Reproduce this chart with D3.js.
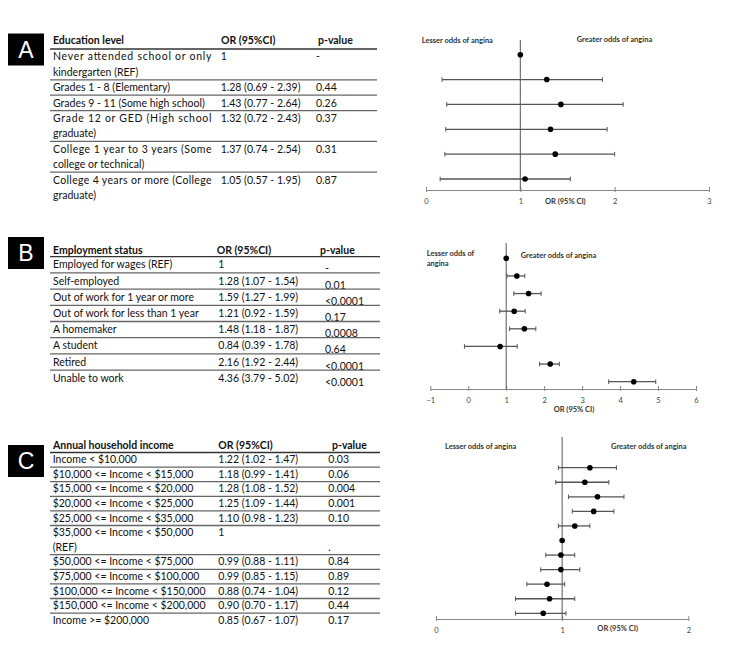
<!DOCTYPE html>
<html>
<head>
<meta charset="utf-8">
<script src="https://cdn.jsdelivr.net/npm/d3@7"></script>
<style>
  body { margin: 0; background: #fff; }
  svg { display: block; }
</style>
</head>
<body>
<svg width="750" height="660"></svg>
<script>
// ---- Panel A : education ----
const eduLabels = [
  ["Never attended school or only", "kindergarten (REF)"],
  ["Grades 1 - 8 (Elementary)"],
  ["Grades 9 - 11 (Some high school)"],
  ["Grade 12 or GED (High school", "graduate)"],
  ["College 1 year to 3 years (Some", "college or technical)"],
  ["College 4 years or more (College", "graduate)"]
];
const eduOR   = [1, 1.28, 1.43, 1.32, 1.37, 1.05];
const eduLow  = [null, 0.69, 0.77, 0.72, 0.74, 0.57];
const eduHigh = [null, 2.39, 2.64, 2.43, 2.54, 1.95];
const eduP    = ["-", "0.44", "0.26", "0.37", "0.31", "0.87"];
// whisker ends as they are drawn in the plot
const eduBarLow  = [null, 0.17, 0.22, 0.21, 0.20, 0.15];
const eduBarHigh = [null, 1.87, 2.09, 1.92, 2.00, 1.53];
const eduTicks = [0, 1, 2, 3];

// ---- Panel B : employment ----
const empLabels = [
  ["Employed for wages (REF)"],
  ["Self-employed"],
  ["Out of work for 1 year or more"],
  ["Out of work for less than 1 year"],
  ["A homemaker"],
  ["A student"],
  ["Retired"],
  ["Unable to work"]
];
const empOR   = [1, 1.28, 1.59, 1.21, 1.48, 0.84, 2.16, 4.36];
const empLow  = [null, 1.07, 1.27, 0.92, 1.18, 0.39, 1.92, 3.79];
const empHigh = [null, 1.54, 1.99, 1.59, 1.87, 1.78, 2.44, 5.02];
const empP    = ["-", "0.01", "<0.0001", "0.17", "0.0008", "0.64", "<0.0001", "<0.0001"];
const empBarLow  = [null, 1.02, 1.20, 0.83, 1.09, -0.10, 1.88, 3.70];
const empBarHigh = [null, 1.49, 1.92, 1.50, 1.78, 1.29, 2.40, 4.94];
const empTicks = [-1, 0, 1, 2, 3, 4, 5, 6];

// ---- Panel C : household income ----
const incLabels = [
  ["Income < $10,000"],
  ["$10,000 <= Income < $15,000"],
  ["$15,000 <= Income < $20,000"],
  ["$20,000 <= Income < $25,000"],
  ["$25,000 <= Income < $35,000"],
  ["$35,000 <= Income < $50,000", "(REF)"],
  ["$50,000 <= Income < $75,000"],
  ["$75,000 <= Income < $100,000"],
  ["$100,000 <= Income < $150,000"],
  ["$150,000 <= Income < $200,000"],
  ["Income >= $200,000"]
];
const incOR   = [1.22, 1.18, 1.28, 1.25, 1.10, 1, 0.99, 0.99, 0.88, 0.90, 0.85];
const incLow  = [1.02, 0.99, 1.08, 1.09, 0.98, null, 0.88, 0.85, 0.74, 0.70, 0.67];
const incHigh = [1.47, 1.41, 1.52, 1.44, 1.23, null, 1.11, 1.15, 1.04, 1.17, 1.07];
const incP    = ["0.03", "0.06", "0.004", "0.001", "0.10", ".", "0.84", "0.89", "0.12", "0.44", "0.17"];
const incBarLow  = [0.97, 0.95, 1.05, 1.08, 0.97, null, 0.87, 0.83, 0.72, 0.63, 0.63];
const incBarHigh = [1.43, 1.37, 1.49, 1.41, 1.22, null, 1.10, 1.14, 1.02, 1.10, 1.03];
const incTicks = [0, 1, 2];

const FONT = 'Lato, "DejaVu Sans", sans-serif';
const svg = d3.select('svg').attr('font-family', FONT);

function ciText(or, lo, hi) {
  if (lo == null) return '1';
  return `${or.toFixed(2)} (${lo.toFixed(2)} - ${hi.toFixed(2)})`;
}

function drawLetter(letter, cy) {
  svg.append('rect')
    .attr('x', 8).attr('y', cy - 16)
    .attr('width', 36).attr('height', 32)
    .attr('fill', '#000');
  svg.append('text')
    .attr('x', 26).attr('y', cy)
    .attr('dy', '0.36em')
    .attr('text-anchor', 'middle')
    .attr('font-family', '"Liberation Sans", Arial, sans-serif')
    .attr('font-size', 23)
    .attr('fill', '#fff')
    .text(letter);
}

function drawTable(t) {
  const g = svg.append('g').attr('font-size', 10.5).attr('fill', '#111');
  // header
  t.heads.forEach((h, i) => {
    g.append('text')
      .attr('x', t.headX[i]).attr('y', t.lineY - t.headOff)
      .attr('dy', '0.36em')
      .attr('font-weight', 'bold')
      .text(h);
  });
  g.append('line')
    .attr('x1', t.x0).attr('x2', t.x1)
    .attr('y1', t.lineY).attr('y2', t.lineY)
    .attr('stroke', '#333').attr('stroke-width', 1.3);

  let top = t.lineY;
  t.labels.forEach((lines, i) => {
    if (i > 0) {
      g.append('line')
        .attr('x1', t.x0).attr('x2', t.x1)
        .attr('y1', top).attr('y2', top)
        .attr('stroke', '#666').attr('stroke-width', 1.3);
    }
    lines.forEach((s, k) => {
      const txt = g.append('text')
        .attr('x', t.colX[0]).attr('y', top + t.textOff + k * t.lh)
        .attr('dy', '0.36em')
        .text(s);
      if (t.justify && lines.length > 1 && k == 0) {
        txt.attr('textLength', t.justifyW).attr('lengthAdjust', 'spacing');
      }
    });
    g.append('text')
      .attr('x', t.colX[1]).attr('y', top + t.textOff)
      .attr('dy', '0.36em')
      .text(ciText(t.or[i], t.low[i], t.high[i]));
    g.append('text')
      .attr('x', t.colX[2])
      .attr('y', top + t.textOff + t.pShift + (t.pLast ? (lines.length - 1) * t.lh : 0))
      .attr('dy', '0.36em')
      .text(t.p[i]);
    top += lines.length * t.lh;
  });
}

function drawForest(f) {
  const g = svg.append('g');
  const x = d3.scaleLinear().domain(f.domain).range(f.xRange);
  const y = d3.scalePoint().domain(d3.range(f.or.length)).range(f.yRange);

  const axis = d3.axisBottom(x)
    .tickValues(f.ticks)
    .tickSizeOuter(0)
    .tickSizeInner(3)
    .tickFormat(d3.format('d'));
  const ax = g.append('g')
    .attr('transform', `translate(0, ${f.axisY})`)
    .call(axis);
  ax.select('.domain').attr('stroke', '#888').attr('stroke-width', 1.2);
  ax.selectAll('.tick line').attr('stroke', '#888').attr('y1', -3).attr('y2', 2);
  ax.selectAll('.tick text')
    .attr('y', 11.7).attr('dy', '0.36em')
    .attr('font-family', FONT).attr('font-size', 7.5).attr('fill', '#444');

  // reference line at OR = 1
  g.append('line')
    .attr('x1', x(1)).attr('x2', x(1))
    .attr('y1', f.refTop).attr('y2', f.axisY)
    .attr('stroke', '#666').attr('stroke-width', 1.1);

  const rows = d3.range(f.or.length).filter(i => f.barLow[i] != null);
  g.selectAll('.bar')
    .data(rows).enter().append('line')
    .attr('x1', i => x(f.barLow[i])).attr('x2', i => x(f.barHigh[i]))
    .attr('y1', i => y(i)).attr('y2', i => y(i))
    .attr('stroke', '#555').attr('stroke-width', 1.3);
  ['barLow', 'barHigh'].forEach(key => {
    g.selectAll('.cap-' + key)
      .data(rows).enter().append('line')
      .attr('x1', i => x(f[key][i])).attr('x2', i => x(f[key][i]))
      .attr('y1', i => y(i) - 2.3).attr('y2', i => y(i) + 2.3)
      .attr('stroke', '#555').attr('stroke-width', 1);
  });
  g.selectAll('circle')
    .data(f.or).enter().append('circle')
    .attr('cx', d => x(d)).attr('cy', (d, i) => y(i))
    .attr('r', 2.8)
    .attr('fill', '#000');

  f.notes.forEach(n => {
    g.append('text')
      .attr('x', n.x).attr('y', n.y)
      .attr('dy', '0.36em')
      .attr('text-anchor', n.anchor || 'start')
      .attr('font-size', 7.5).attr('font-weight', 'bold').attr('fill', '#333')
      .text(n.text);
  });
}

// ---------- A ----------
drawLetter('A', 49.5);
drawTable({
  heads: ['Education level', 'OR (95%CI)', 'p-value'],
  headX: [53, 221, 318], headOff: 9,
  colX: [53, 220.7, 316],
  x0: 50, x1: 377, lineY: 49, lh: 15.4, textOff: 7.7, pShift: 0,
  justify: true, justifyW: 158.5,
  labels: eduLabels, or: eduOR, low: eduLow, high: eduHigh, p: eduP
});
drawForest({
  domain: [0, 3], xRange: [426, 709], yRange: [54.7, 179], axisY: 190, refTop: 40,
  ticks: eduTicks, or: eduOR, barLow: eduBarLow, barHigh: eduBarHigh,
  notes: [
    { text: 'Lesser odds of angina', x: 421.7, y: 40 },
    { text: 'Greater odds of angina', x: 576.7, y: 39.3 },
    { text: 'OR (95% CI)', x: 545, y: 201.7 }
  ]
});

// ---------- B ----------
drawLetter('B', 253);
drawTable({
  heads: ['Employment status', 'OR (95%CI)', 'p-value'],
  headX: [53, 216.7, 320], headOff: 6.7,
  colX: [53, 218.3, 325],
  x0: 50, x1: 380, lineY: 256.7, lh: 16.2, textOff: 8, pShift: 4,
  justify: false,
  labels: empLabels, or: empOR, low: empLow, high: empHigh, p: empP
});
drawForest({
  domain: [-1, 6], xRange: [430.3, 696], yRange: [258.3, 381.7], axisY: 389, refTop: 243,
  ticks: empTicks, or: empOR, barLow: empBarLow, barHigh: empBarHigh,
  notes: [
    { text: 'Lesser odds of', x: 426.7, y: 253.3 },
    { text: 'angina', x: 426.7, y: 263.3 },
    { text: 'Greater odds of angina', x: 520.7, y: 255.7 },
    { text: 'OR (95% CI)', x: 574, y: 409.5, anchor: 'middle' }
  ]
});

// ---------- C ----------
drawLetter('C', 461);
drawTable({
  heads: ['Annual household income', 'OR (95%CI)', 'p-value'],
  headX: [53, 218.3, 332], headOff: 7.5,
  colX: [52.7, 218.3, 328.3],
  x0: 50, x1: 380, lineY: 452.5, lh: 14.6, textOff: 6.9, pShift: 0, pLast: true,
  justify: false,
  labels: incLabels, or: incOR, low: incLow, high: incHigh, p: incP
});
drawForest({
  domain: [0, 2], xRange: [436, 688.3], yRange: [467.7, 613.3], axisY: 619, refTop: 437,
  ticks: incTicks, or: incOR, barLow: incBarLow, barHigh: incBarHigh,
  notes: [
    { text: 'Lesser odds of angina', x: 445, y: 446 },
    { text: 'Greater odds of angina', x: 611, y: 446 },
    { text: 'OR (95% CI)', x: 617.7, y: 628.3, anchor: 'middle' }
  ]
});
</script>
</body>
</html>
